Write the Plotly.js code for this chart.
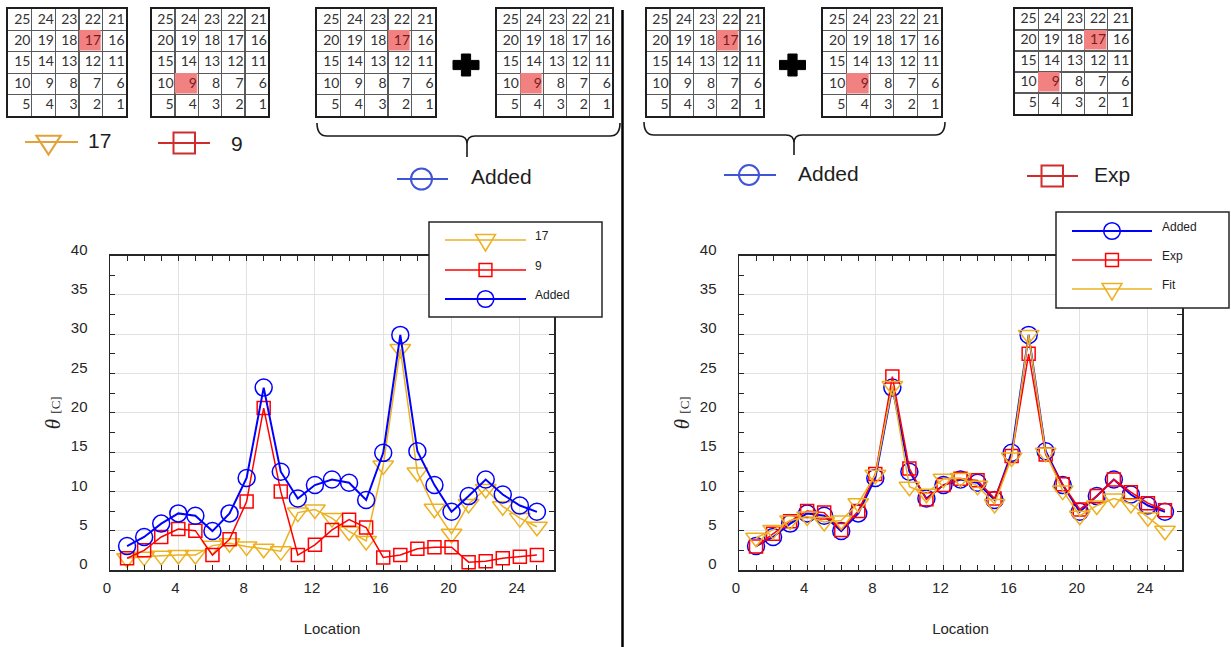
<!DOCTYPE html>
<html>
<head>
<meta charset="utf-8">
<script src="https://cdn.plot.ly/plotly-3.0.1.min.js"></script>
<style>html,body{margin:0;padding:0;background:#fff;}#chart{width:1231px;height:647px;}</style>
</head>
<body>
<div id="chart"></div>
<script>
// ---------------- data ----------------
const locations = [1,2,3,4,5,6,7,8,9,10,11,12,13,14,15,16,17,18,19,20,21,22,23,24,25];
const series17 = [1.5,1.7,1.8,1.9,1.9,3.1,3.4,3.0,2.7,2.4,7.3,7.7,6.6,4.9,3.7,13.3,28.1,12.4,7.8,4.6,8.4,10.3,8.1,6.6,5.5];
const series9 = [1.5,2.5,4.2,5.2,5.0,1.9,3.9,8.7,20.6,10.0,1.9,3.2,5.1,6.4,5.4,1.6,1.9,2.7,2.9,2.9,1.0,1.1,1.5,1.7,1.9];
const seriesAdded = [3.05,4.2,5.9,7.2,6.9,4.95,7.2,11.7,23.2,12.5,9.1,10.8,11.5,11.1,8.9,14.9,29.9,15.1,10.8,7.4,9.4,11.5,9.6,8.2,7.4];
const seriesExp = [3.0,4.6,6.2,7.5,7.3,5.1,7.5,12.2,24.6,12.9,9.0,10.8,11.6,11.4,9.1,14.5,27.5,14.7,10.9,7.7,9.4,11.5,9.9,8.5,7.6];
const seriesFit = [4.1,5.1,6.3,6.8,6.1,6.3,8.5,12.1,23.4,10.6,9.7,11.6,11.7,10.7,8.4,14.3,29.9,14.9,10.1,6.9,8.2,9.1,8.4,6.7,5.0];
const xTickVals = [0,4,8,12,16,20,24];
const yTickVals = [0,5,10,15,20,25,30,35,40];
const gridNumbers = [
  [25,24,23,22,21],
  [20,19,18,17,16],
  [15,14,13,12,11],
  [10,9,8,7,6],
  [5,4,3,2,1]
];
const gridHighlights = [[17],[9],[17],[9],[17],[9],[17,9]];
const leftLegendNames = ['17','9','Added'];
const rightLegendNames = ['Added','Exp','Fit'];
const topLabels = ['17','9','Added','Added','Exp'];

// ---------------- helpers ----------------
const W = 1231, H = 647;
const px = x => x / W;
const py = y => 1 - y / H;
const YEL = '#EDB120', RED = '#FF0000', BLU = '#0000FF';
const FONT = 'Liberation Sans, Arial, sans-serif';

const traces = [];
const shapes = [];
const annotations = [];
const layout = {
  width: W, height: H,
  margin: {l:0, r:0, t:0, b:0},
  paper_bgcolor: '#ffffff', plot_bgcolor: '#ffffff',
  showlegend: false,
  font: {family: FONT, color: '#262626'},
  shapes, annotations
};

// ---------------- main charts ----------------
function mainX(domain, anchor) {
  return {
    domain, anchor, range: [0, 26],
    tickmode: 'array', tickvals: xTickVals,
    ticks: 'inside', ticklen: 5, tickwidth: 1, tickcolor: '#262626',
    showline: true, linecolor: '#262626', linewidth: 1.5, mirror: 'ticks',
    showgrid: true, gridcolor: '#e1e1e1', gridwidth: 1, zeroline: false,
    minor: {tickmode: 'linear', tick0: 0, dtick: 1, ticks: 'inside', ticklen: 5, tickwidth: 1, tickcolor: '#262626', showgrid: false},
    tickfont: {family: FONT, size: 15, color: '#262626'},
    ticklabelstandoff: 3, ticklabelshift: -3,
    title: {text: 'Location', font: {family: FONT, size: 15, color: '#262626'}, standoff: 29},
    fixedrange: true
  };
}
function mainY(domain, anchor) {
  return {
    domain, anchor, range: [0, 40],
    tickmode: 'array', tickvals: yTickVals,
    ticks: 'inside', ticklen: 5, tickwidth: 1, tickcolor: '#262626',
    showline: true, linecolor: '#262626', linewidth: 1.5, mirror: 'ticks',
    showgrid: true, gridcolor: '#e1e1e1', gridwidth: 1, zeroline: false,
    minor: {tickmode: 'linear', tick0: 0, dtick: 2.5, ticks: 'inside', ticklen: 5, tickwidth: 1, tickcolor: '#262626', showgrid: false},
    tickfont: {family: FONT, size: 15, color: '#262626'},
    ticklabelstandoff: 18, ticklabelshift: -6,
    title: {text: '<i>θ</i> <span style="font-size:13px">[C]</span>', font: {family: 'Liberation Serif, DejaVu Serif, serif', size: 21, color: '#262626'}, standoff: 4},
    fixedrange: true
  };
}
const plotY = [py(570), py(255.5)];
layout.xaxis = mainX([px(110), px(554)], 'y');
layout.yaxis = mainY(plotY, 'x');
layout.xaxis2 = mainX([px(739), px(1182)], 'y2');
layout.yaxis2 = mainY(plotY, 'x2');

function seriesTrace(name, y, color, symbol, size, xa, ya, lw) {
  return {
    type: 'scatter', mode: 'lines+markers', name, x: locations, y,
    xaxis: xa, yaxis: ya, cliponaxis: false,
    line: {color, width: lw},
    marker: {symbol, size, color, line: {width: 1.5, color}},
    hoverinfo: 'x+y+name'
  };
}
traces.push(seriesTrace('17', series17, YEL, 'triangle-down-open', 18, 'x', 'y', 1.5));
traces.push(seriesTrace('9', series9, RED, 'square-open', 13, 'x', 'y', 1.5));
traces.push(seriesTrace('Added', seriesAdded, BLU, 'circle-open', 17, 'x', 'y', 2));
traces.push(seriesTrace('Added', seriesAdded, BLU, 'circle-open', 17, 'x2', 'y2', 2));
traces.push(seriesTrace('Exp', seriesExp, RED, 'square-open', 13, 'x2', 'y2', 1.5));
traces.push(seriesTrace('Fit', seriesFit, YEL, 'triangle-down-open', 18, 'x2', 'y2', 1.5));

// ---------------- number grids ----------------
const gridBoxes = [
  [8.3,126,9,116],[151.7,268.3,9,116],[317.3,435,9,116],[497.3,612.3,9,116],
  [646.7,763.3,9,116],[823.3,940.7,9,116],[1015,1130.7,9,114]
];
const cellCenters = [0.5,1.5,2.5,3.5,4.5];
gridBoxes.forEach((b, i) => {
  const n = i + 3;
  const ax = {
    range: [0,5], tickmode: 'linear', tick0: 0, dtick: 1,
    showgrid: true, gridcolor: '#5a5a5a', gridwidth: 1.2,
    showline: true, mirror: true, linecolor: '#1e1e1e', linewidth: 2,
    showticklabels: false, ticks: '', zeroline: false, fixedrange: true
  };
  layout['xaxis' + n] = Object.assign({}, ax, {domain: [px(b[0]), px(b[1])], anchor: 'y' + n});
  layout['yaxis' + n] = Object.assign({}, ax, {domain: [py(b[3]), py(b[2])], anchor: 'x' + n, range: [5,0]});
  const hl = gridHighlights[i];
  const z = gridNumbers.map(row => row.map(v => hl.includes(v) ? 1 : null));
  traces.push({
    type: 'heatmap', x: cellCenters, y: cellCenters, z,
    xaxis: 'x' + n, yaxis: 'y' + n, zmin: 0, zmax: 1,
    colorscale: [[0,'#F28282'],[1,'#F28282']], showscale: false,
    xgap: 1.5, ygap: 1.5, hoverinfo: 'skip'
  });
  const tx = [], ty = [], tt = [], tc = [];
  gridNumbers.forEach((row, r) => row.forEach((v, c) => {
    tx.push(c + 0.94); ty.push(r + 0.52); tt.push(String(v));
    tc.push(hl.includes(v) ? '#7a1c1c' : '#333333');
  }));
  traces.push({
    type: 'scatter', mode: 'text', x: tx, y: ty, text: tt,
    textposition: 'middle left', xaxis: 'x' + n, yaxis: 'y' + n,
    textfont: {family: 'Lato, Open Sans, sans-serif', size: 14, color: tc},
    hoverinfo: 'skip', cliponaxis: false
  });
});

// ---------------- decorations (glyphs) ----------------
function pathFrom(pts, close) {
  return 'M' + pts.map(p => px(p[0]) + ',' + py(p[1])).join(' L') + (close ? ' Z' : '');
}
function lineShape(x0, y0, x1, y1, color, w) {
  shapes.push({type:'line', xref:'paper', yref:'paper', x0:px(x0), y0:py(y0), x1:px(x1), y1:py(y1), line:{color, width:w}, layer:'above'});
}
function circleShape(cx, cy, r, color, w) {
  shapes.push({type:'circle', xref:'paper', yref:'paper', x0:px(cx-r), x1:px(cx+r), y0:py(cy+r), y1:py(cy-r), line:{color, width:w}, fillcolor:'rgba(0,0,0,0)', layer:'above'});
}
function rectShape(x0, y0, x1, y1, color, w, fill) {
  shapes.push({type:'rect', xref:'paper', yref:'paper', x0:px(x0), x1:px(x1), y0:py(y1), y1:py(y0), line:{color, width:w}, fillcolor: fill || 'rgba(0,0,0,0)', layer:'above'});
}
function triShape(cx, cy, w, h, color, lw) {
  const top = cy - h / 3;
  shapes.push({type:'path', xref:'paper', yref:'paper', path: pathFrom([[cx-w/2, top],[cx+w/2, top],[cx, top+h]], true), line:{color, width:lw}, fillcolor:'rgba(0,0,0,0)', layer:'above'});
}
function plusShape(cx, cy) {
  const a = 13, b = 11, t = 4.6;
  shapes.push({type:'path', xref:'paper', yref:'paper', path: pathFrom([
    [cx-t,cy-b],[cx+t,cy-b],[cx+t,cy-t],[cx+a,cy-t],[cx+a,cy+t],[cx+t,cy+t],
    [cx+t,cy+b],[cx-t,cy+b],[cx-t,cy+t],[cx-a,cy+t],[cx-a,cy-t],[cx-t,cy-t]], true),
    line:{color:'#000', width:1}, fillcolor:'#000', layer:'above'});
}
function bracketShape(xl, xr, xm, yEnd, yBar, yTip) {
  const p = (x, y) => px(x) + ',' + py(y);
  const path = 'M' + p(xl, yEnd) + ' Q' + p(xl, yBar) + ' ' + p(xl + 10, yBar) +
    ' L' + p(xm - 8, yBar) + ' Q' + p(xm, yBar) + ' ' + p(xm, yBar + 8) + ' L' + p(xm, yTip) +
    ' M' + p(xm, yBar + 8) + ' Q' + p(xm, yBar) + ' ' + p(xm + 8, yBar) +
    ' L' + p(xr - 10, yBar) + ' Q' + p(xr, yBar) + ' ' + p(xr, yEnd);
  shapes.push({type:'path', xref:'paper', yref:'paper', path, line:{color:'#1a1a1a', width:1.6}, layer:'above'});
}
function label(x, y, text, size, anchor) {
  annotations.push({xref:'paper', yref:'paper', x:px(x), y:py(y), text, showarrow:false,
    xanchor: anchor || 'left', yanchor:'middle', font:{family:FONT, size, color:'#1e1e1e'}});
}

// divider
lineShape(622.5, 10, 622.5, 647, '#000', 2.5);
// plus signs and brackets
plusShape(466, 65);
plusShape(792.5, 65);
bracketShape(317, 620, 467, 123, 136, 157);
bracketShape(644, 945, 794, 122, 135, 155);

// top glyph legends
const ORG = '#E3A13A', DRED = '#D02C2C', MBLU = '#3F55D6';
lineShape(25, 142, 78, 142, ORG, 2);
triShape(48.5, 142, 24.5, 19, ORG, 2);
label(86, 141, topLabels[0], 21);
lineShape(158, 143, 210, 143, DRED, 2);
rectShape(173.5, 132.5, 195, 153.5, DRED, 2);
label(229, 144, topLabels[1], 21);
lineShape(397, 179, 448, 179, MBLU, 2);
circleShape(421.5, 179, 10.5, MBLU, 2);
label(469, 176, topLabels[2], 21);
lineShape(724, 175, 776, 175, MBLU, 2);
circleShape(749, 175, 10, MBLU, 2);
label(796, 173, topLabels[3], 21);
lineShape(1027, 176, 1078, 176, DRED, 2);
rectShape(1041.5, 165.5, 1063, 186.5, DRED, 2);
label(1092, 175, topLabels[4], 21);

// in-plot legend boxes
function legendBox(x0, y0, x1, y1, rowsY, lineX0, lineX1, textX, names, styles) {
  rectShape(x0, y0, x1, y1, '#262626', 1.5, '#ffffff');
  const mx = (lineX0 + lineX1) / 2;
  names.forEach((nm, i) => {
    const y = rowsY[i], s = styles[i];
    lineShape(lineX0, y, lineX1, y, s.color, s.w);
    if (s.sym === 'tri') triShape(mx, y, 20, 16.5, s.color, 1.5);
    else if (s.sym === 'sq') rectShape(mx - 6.4, y - 6.4, mx + 6.4, y + 6.4, s.color, 1.5);
    else circleShape(mx, y, 8.3, s.color, 1.5);
    label(textX, y - 4, nm, 12);
  });
}
legendBox(429, 222, 602, 317, [240, 270, 299], 445, 526, 533, leftLegendNames,
  [{color:YEL, w:1.5, sym:'tri'}, {color:RED, w:1.5, sym:'sq'}, {color:BLU, w:2, sym:'circ'}]);
legendBox(1056, 212, 1229, 308, [231, 260, 289], 1072, 1152, 1160, rightLegendNames,
  [{color:BLU, w:2, sym:'circ'}, {color:RED, w:1.5, sym:'sq'}, {color:YEL, w:1.5, sym:'tri'}]);

Plotly.newPlot('chart', traces, layout, {displayModeBar: false, staticPlot: true});
</script>
</body>
</html>
